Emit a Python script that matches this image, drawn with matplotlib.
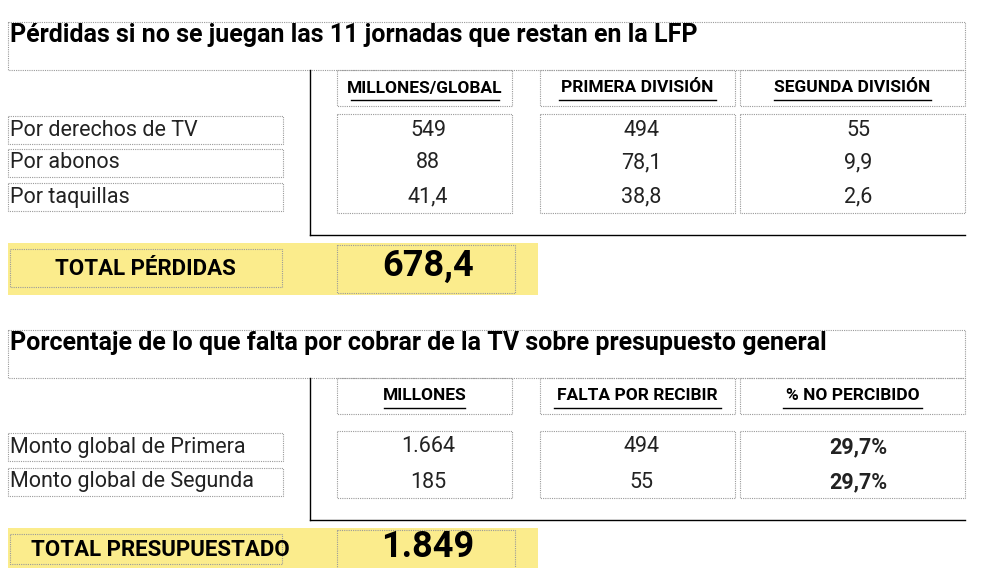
import matplotlib.pyplot as plt
from matplotlib.patches import Rectangle

# --- data ---
title1 = "Pérdidas si no se juegan las 11 jornadas que restan en la LFP"
headers1 = ["MILLONES/GLOBAL", "PRIMERA DIVISIÓN", "SEGUNDA DIVISIÓN"]
rows1 = ["Por derechos de TV", "Por abonos", "Por taquillas"]
global1 = ["549", "88", "41,4"]
primera1 = ["494", "78,1", "38,8"]
segunda1 = ["55", "9,9", "2,6"]
total1_label = "TOTAL PÉRDIDAS"
total1_value = "678,4"

title2 = "Porcentaje de lo que falta por cobrar de la TV sobre presupuesto general"
headers2 = ["MILLONES", "FALTA POR RECIBIR", "% NO PERCIBIDO"]
rows2 = ["Monto global de Primera", "Monto global de Segunda"]
millones2 = ["1.664", "185"]
falta2 = ["494", "55"]
pct2 = ["29,7%", "29,7%"]
total2_label = "TOTAL PRESUPUESTADO"
total2_value = "1.849"

plt.rcParams["font.family"] = "Roboto"
fig = plt.figure(figsize=(9.9, 5.68), dpi=100)
ax = fig.add_axes([0, 0, 1, 1])
ax.set_xlim(0, 990)
ax.set_ylim(568, 0)
ax.axis("off")

DOT = dict(fill=False, edgecolor="#9a9a9a", linestyle=(0, (1, 1)), linewidth=0.8)
YEL = "#fbec8c"
col_x = [423, 636, 853]
col_box = [(337, 512), (540, 735), (740, 965)]


def section(y0, title, headers, rows, cols, row_y, bold_last, total_label, total_value, yel_h, title_size):
    ax.add_patch(Rectangle((8, y0), 957, 48, **DOT))
    ax.text(10, y0 + 13, title, fontsize=title_size, fontweight="bold", va="center", ha="left")
    hy = y0 + 66
    for (x1, x2), h, cx in zip(col_box, headers, col_x):
        ax.add_patch(Rectangle((x1, y0 + 48), x2 - x1, 36, **DOT))
        ax.text((x1 + x2) / 2, hy, h, fontsize=12.5, fontweight="bold", ha="center", va="center")
        w = len(h) * 9.6
        ax.plot([(x1 + x2) / 2 - w / 2 - 2, (x1 + x2) / 2 + w / 2 + 2], [hy + 12, hy + 12], color="black", lw=1)
    last_y = row_y[-1] + 38
    ax.plot([310, 310], [y0 + 48, last_y], color="black", lw=1)
    ax.plot([310, 965], [last_y, last_y], color="black", lw=1)
    for i, (lab, ry) in enumerate(zip(rows, row_y)):
        ax.text(10, ry, lab, fontsize=15.5, ha="left", va="center", color="#222")
        ax.add_patch(Rectangle((8, ry - 14), 275, 28, **DOT))
        for j, vals in enumerate(cols):
            bold = bold_last and j == 2
            ax.text(col_x[j] + 5, ry, vals[i], fontsize=15.5, ha="center", va="center",
                    fontweight="bold" if bold else "normal", color="#222")
    for (x1, x2) in col_box:
        ax.add_patch(Rectangle((x1, row_y[0] - 16), x2 - x1, row_y[-1] - row_y[0] + 32, **DOT))
    ty = last_y + 8
    ax.add_patch(Rectangle((8, ty), 530, yel_h, facecolor=YEL, edgecolor="none"))
    ax.add_patch(Rectangle((10, ty + 6), 272, yel_h - 14, **DOT))
    ax.add_patch(Rectangle((337, ty + 2), 178, yel_h - 4, **DOT))
    mid = ty + yel_h / 2
    ax.text(145 if total_label == total1_label else 160, mid, total_label, fontsize=16,
            fontweight="bold", ha="center", va="center")
    ax.text(428, mid - 3, total_value, fontsize=26, fontweight="bold", ha="center", va="center")


section(22, title1, headers1, rows1, [global1, primera1, segunda1], [130, 163, 197],
        False, total1_label, total1_value, 52, 18)
section(330, title2, headers2, rows2, [millones2, falta2, pct2], [447, 482],
        True, total2_label, total2_value, 44, 18)

fig.savefig("out.png", dpi=100)
